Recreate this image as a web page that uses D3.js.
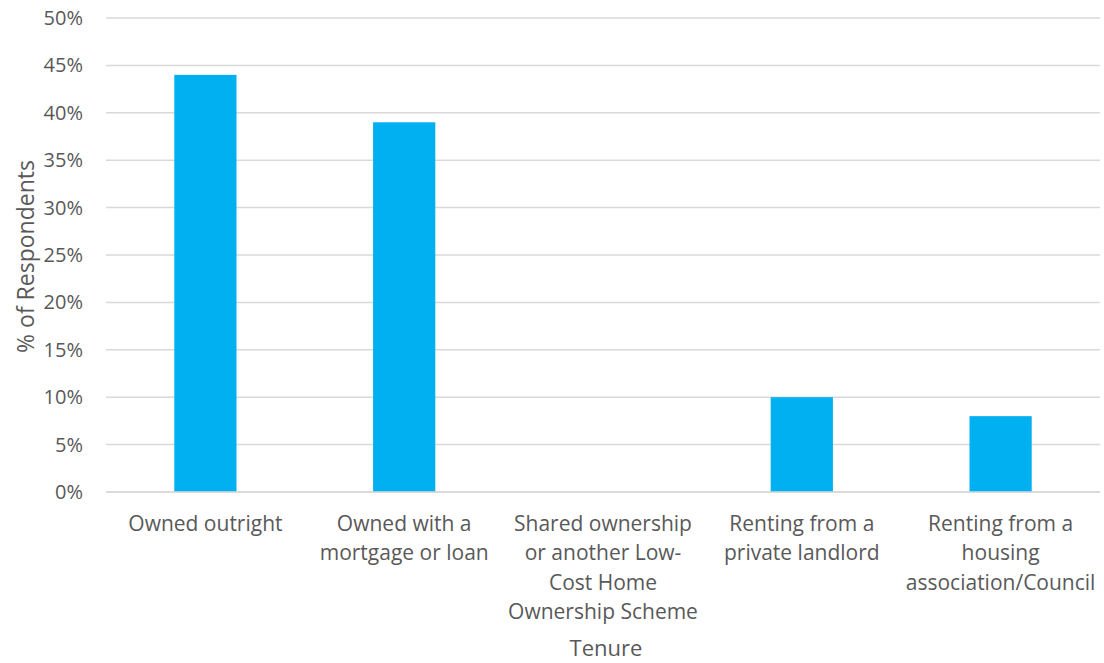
<!DOCTYPE html>
<html>
<head>
<meta charset="utf-8">
<script src="https://cdn.jsdelivr.net/npm/d3@7"></script>
<style>
  html, body { margin: 0; padding: 0; background: #fff; }
  svg text { font-family: "Open Sans", sans-serif; fill: #595959; }
</style>
</head>
<body>
<svg id="chart" width="1104" height="663"></svg>
<script>
const categories = [
  "Owned outright",
  "Owned with a mortgage or loan",
  "Shared ownership or another Low-Cost Home Ownership Scheme",
  "Renting from a private landlord",
  "Renting from a housing association/Council"
];
const categoryLines = [
  ["Owned outright"],
  ["Owned with a", "mortgage or loan"],
  ["Shared ownership", "or another Low-", "Cost Home", "Ownership Scheme"],
  ["Renting from a", "private landlord"],
  ["Renting from a", "housing", "association/Council"]
];
const values = [0.44, 0.39, 0, 0.10, 0.08];
const yTicks = [0, 0.05, 0.10, 0.15, 0.20, 0.25, 0.30, 0.35, 0.40, 0.45, 0.50];
const yTitle = "% of Respondents";
const xTitle = "Tenure";

const svg = d3.select("#chart");
const plotLeft = 106, plotRight = 1100, plotTop = 18, plotBottom = 492;

const x = d3.scaleBand().domain(categories).range([plotLeft, plotRight]).paddingInner(0.687).paddingOuter(0.3435);
const y = d3.scaleLinear().domain([0, 0.5]).range([plotBottom, plotTop]);

// gridlines
svg.append("g").selectAll("line").data(yTicks).join("line")
  .attr("x1", plotLeft).attr("x2", plotRight)
  .attr("y1", d => y(d)).attr("y2", d => y(d))
  .attr("stroke", "#d9d9d9").attr("stroke-width", 1.5);

// y tick labels
svg.append("g").selectAll("text").data(yTicks).join("text")
  .attr("x", 83).attr("y", d => y(d))
  .attr("dy", "0.35em")
  .attr("text-anchor", "end")
  .attr("font-size", 20)
  .text(d => d3.format(".0%")(d));

// bars
svg.append("g").selectAll("rect").data(values).join("rect")
  .attr("x", (d, i) => x(categories[i]))
  .attr("width", x.bandwidth())
  .attr("y", d => y(d))
  .attr("height", d => y(0) - y(d))
  .attr("fill", "#00B0F0");

// baseline
svg.append("line")
  .attr("x1", plotLeft).attr("x2", plotRight)
  .attr("y1", y(0)).attr("y2", y(0))
  .attr("stroke", "#d9d9d9").attr("stroke-width", 1.5);

// x labels
const xl = svg.append("g").selectAll("text").data(categories).join("text")
  .attr("text-anchor", "middle")
  .attr("font-size", 21)
  .attr("transform", d => `translate(${x(d) + x.bandwidth() / 2},531)`);
xl.each(function(d, i) {
  d3.select(this).selectAll("tspan").data(categoryLines[i]).join("tspan")
    .attr("x", 0).attr("y", (t, j) => j * 29.3)
    .text(t => t);
});

// axis titles
svg.append("text")
  .attr("transform", `translate(34,256.5) rotate(-90)`)
  .attr("text-anchor", "middle")
  .attr("font-size", 23)
  .text(yTitle);

svg.append("text")
  .attr("x", 606).attr("y", 656)
  .attr("text-anchor", "middle")
  .attr("font-size", 22)
  .text(xTitle);
</script>
</body>
</html>
